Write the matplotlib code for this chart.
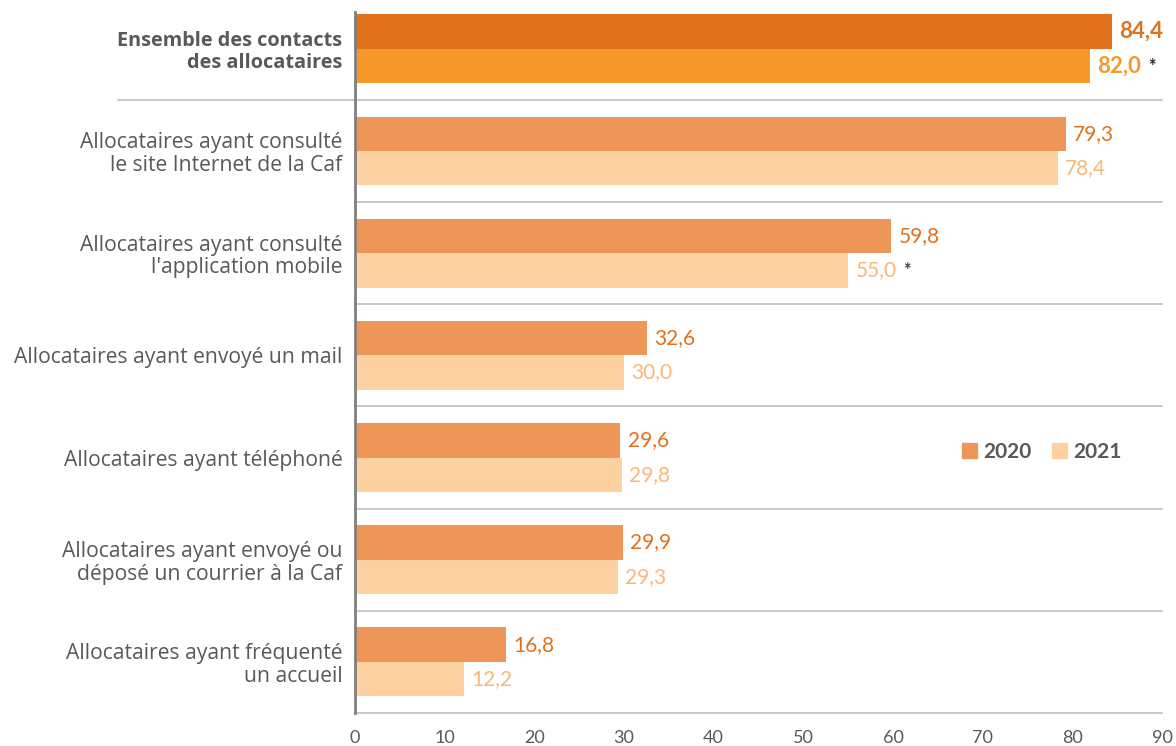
import matplotlib.pyplot as plt
import numpy as np
from matplotlib.patches import Patch

# data
categories = [
    'Ensemble des contacts\ndes allocataires',
    'Allocataires ayant consulté\nle site Internet de la Caf',
    "Allocataires ayant consulté\nl'application mobile",
    'Allocataires ayant envoyé un mail',
    'Allocataires ayant téléphoné',
    'Allocataires ayant envoyé ou\ndéposé un courrier à la Caf',
    'Allocataires ayant fréquenté\nun accueil',
]
values_2020 = [84.4, 79.3, 59.8, 32.6, 29.6, 29.9, 16.8]
values_2021 = [82.0, 78.4, 55.0, 30.0, 29.8, 29.3, 12.2]
significant_2021 = [True, False, True, False, False, False, False]
series_names = ['2020', '2021']
xticks = list(range(0, 91, 10))

# styles
FONT = 'Lato'
LABEL_FONT = 'Open Sans'
GREY = '#595959'
C20, C21 = '#EE9558', '#FDD1A0'
C20_TOP, C21_TOP = '#E2711D', '#F7992A'
TXT20, TXT21 = '#E2711D', '#F9B77A'

plt.rcParams['font.family'] = [FONT, 'DejaVu Sans']

fig = plt.figure(figsize=(11.76, 7.46), dpi=100)
ax = fig.add_axes([355 / 1176, 33 / 746, (1162 - 355) / 1176, 701 / 746])

y = np.arange(len(categories))
h = 0.337
c20 = [C20_TOP] + [C20] * (len(categories) - 1)
c21 = [C21_TOP] + [C21] * (len(categories) - 1)
ax.barh(y - h / 2, values_2020, height=h, color=c20, zorder=3)
ax.barh(y + h / 2, values_2021, height=h, color=c21, zorder=3)

for i, (v20, v21) in enumerate(zip(values_2020, values_2021)):
    bold = 'bold' if i == 0 else 'normal'
    size = 16 if i == 0 else 15
    t20 = TXT20
    t21 = C21_TOP if i == 0 else TXT21
    ax.text(v20 + 0.8, i - h / 2, f'{v20:.1f}'.replace('.', ','), color=t20,
            fontsize=size, fontweight=bold, va='center', ha='left')
    lab = ax.text(v21 + 0.8, i + h / 2, f'{v21:.1f}'.replace('.', ','), color=t21,
                  fontsize=size, fontweight=bold, va='center', ha='left')
    if significant_2021[i]:
        ax.annotate('*', xy=(1, 0.5), xycoords=lab, xytext=(5, 0),
                    textcoords='offset points', va='center', ha='left',
                    fontsize=13, fontweight='bold', color='#222222' if i == 0 else '#404040')

# separators between groups
for k in range(len(categories) - 1):
    xstart = -26.4 if k == 0 else 0
    ax.plot([xstart, 90], [k + 0.5, k + 0.5], color='#BFBFBF', lw=1.2,
            clip_on=False, zorder=1)

ax.set_xlim(0, 90)
ax.set_ylim(6.5, -0.36)
ax.set_xticks(xticks)
ax.set_yticks(y)
ax.set_yticklabels(categories)
for i, t in enumerate(ax.get_yticklabels()):
    t.set_ha('right')
    t.set_multialignment('right')
    t.set_color(GREY)
    t.set_family(LABEL_FONT)
    t.set_fontsize(15.2)
    t.set_linespacing(1.1)
    if i == 0:
        t.set_fontweight('bold')
        t.set_fontsize(14.3)
ax.tick_params(axis='y', length=0, pad=9)
ax.tick_params(axis='x', length=0, pad=12, labelsize=13, labelcolor=GREY)

for s in ['top', 'right']:
    ax.spines[s].set_visible(False)
ax.spines['left'].set_color('#7F7F7F')
ax.spines['left'].set_linewidth(2)
ax.spines['left'].set_zorder(4)
ax.spines['bottom'].set_color('#BFBFBF')
ax.spines['bottom'].set_linewidth(1.2)

handles = [Patch(color=C20), Patch(color=C21)]
leg = ax.legend(handles, series_names, ncol=2, frameon=False, loc='center',
                bbox_to_anchor=(1042 / 1176, 1 - 452 / 746), bbox_transform=fig.transFigure,
                handlelength=0.7, handleheight=0.7, handletextpad=0.3, columnspacing=1.0,
                prop={'family': FONT, 'size': 15, 'weight': 'bold'})
for t in leg.get_texts():
    t.set_color(GREY)

fig.savefig('out.png', dpi=100)
